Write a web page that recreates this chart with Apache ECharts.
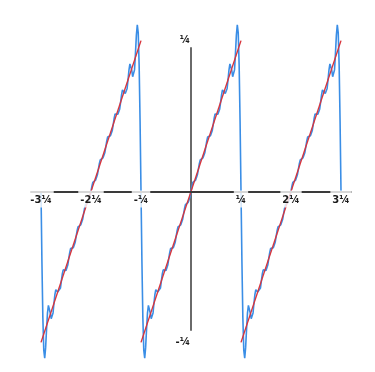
<!DOCTYPE html>
<html>
<head>
<meta charset="utf-8">
<script src="https://cdn.jsdelivr.net/npm/echarts@6/dist/echarts.min.js"></script>
<style>html,body{margin:0;padding:0;background:#fff}#c{width:375px;height:372px}</style>
</head>
<body>
<div id="c"></div>
<script>
// x and y are in units of the tick step (labelled "¼" in the reference)
const xTickValues = [-3, -2, -1, 1, 2, 3];
const xTickLabels = ['-3¼', '-2¼', '-¼', '¼', '2¼', '3¼'];
const yTickValues = [-1, 1];
const yTickLabels = ['-¼', '¼'];

// red sawtooth teeth
const toothStartX = [-3, -1, 1];
const toothEndX = [-1, 1, 3];
const toothLowY = -1;
const toothHighY = 1;

// blue curve: one half tooth, read at x = 0, 1/54, 2/54, ... 1 (odd about x = 0)
const blueHalfTooth = [0, .035, .061, .072, .074, .076, .087, .113, .148, .184, .210, .221, .222, .223,
  .234, .259, .296, .334, .361, .372, .370, .369, .378, .405, .444, .485, .514, .524, .519, .512,
  .519, .547, .593, .640, .673, .680, .667, .650, .651, .683, .741, .805, .846, .843, .805, .761,
  .755, .806, .913, 1.035, 1.105, 1.052, .836, .465, 0];
const blueSamplesPerUnit = 54;
const blueToothCenters = [-2, 0, 2];

const blueData = [];
blueToothCenters.forEach(c => {
  for (let k = -blueSamplesPerUnit; k < blueSamplesPerUnit; k++) {
    const v = blueHalfTooth[Math.abs(k)];
    blueData.push([c + k / blueSamplesPerUnit, k < 0 ? -v : v]);
  }
});
blueData.push([3, 0]);

const redSeries = toothStartX.map((s, i) => ({
  type: 'line', xAxisIndex: 0, yAxisIndex: 0, z: 3,
  data: [[s, toothLowY], [toothEndX[i], toothHighY]],
  showSymbol: false, silent: true,
  lineStyle: { color: '#d8343c', width: 1.4 }
}));

const labelFont = { fontFamily: 'DejaVu Sans', fontWeight: 'bold', fontSize: 10, color: '#1a1a1a' };

const GRID_W = 320, GRID_H = 347;

const chart = echarts.init(document.getElementById('c'), null, { renderer: 'canvas' });
chart.setOption({
  animation: false,
  backgroundColor: '#fff',
  grid: [
    { left: 31, top: 18, width: GRID_W, height: GRID_H },
    { left: 31, right: 24, top: 48, bottom: 42 }
  ],
  xAxis: [
    {
      type: 'value', gridIndex: 0, min: -3.2, max: 3.2, z: 10,
      position: 'bottom', offset: -GRID_H / 2,
      axisLine: { show: true, onZero: false, lineStyle: { color: '#3a3a3a', width: 2 } },
      axisTick: { show: false }, splitLine: { show: false },
      axisLabel: Object.assign({
        customValues: xTickValues, margin: -1,
        formatter: v => xTickLabels[xTickValues.indexOf(v)],
        backgroundColor: 'rgba(255,255,255,0.8)', padding: [5, 2, 2, 2]
      }, labelFont)
    },
    { type: 'value', gridIndex: 1, min: -3.2, max: 3.2, show: false }
  ],
  yAxis: [
    {
      type: 'value', gridIndex: 0, min: -1.15, max: 1.15,
      position: 'left', offset: -GRID_W / 2,
      axisLine: { show: false, onZero: false },
      axisTick: { show: false }, splitLine: { show: false },
      axisLabel: Object.assign({
        customValues: yTickValues, margin: 1,
        formatter: v => yTickLabels[yTickValues.indexOf(v)]
      }, labelFont)
    },
    {
      type: 'value', gridIndex: 1, min: -1, max: 1,
      axisLine: { show: true, onZero: true, lineStyle: { color: '#6a6a6a', width: 2 } },
      axisTick: { show: false }, splitLine: { show: false }, axisLabel: { show: false }
    }
  ],
  series: [
    {
      type: 'line', xAxisIndex: 0, yAxisIndex: 0, z: 2,
      data: blueData, showSymbol: false, silent: true,
      lineStyle: { color: '#3a8ee6', width: 1.6 }
    }
  ].concat(redSeries)
});
</script>
</body>
</html>
